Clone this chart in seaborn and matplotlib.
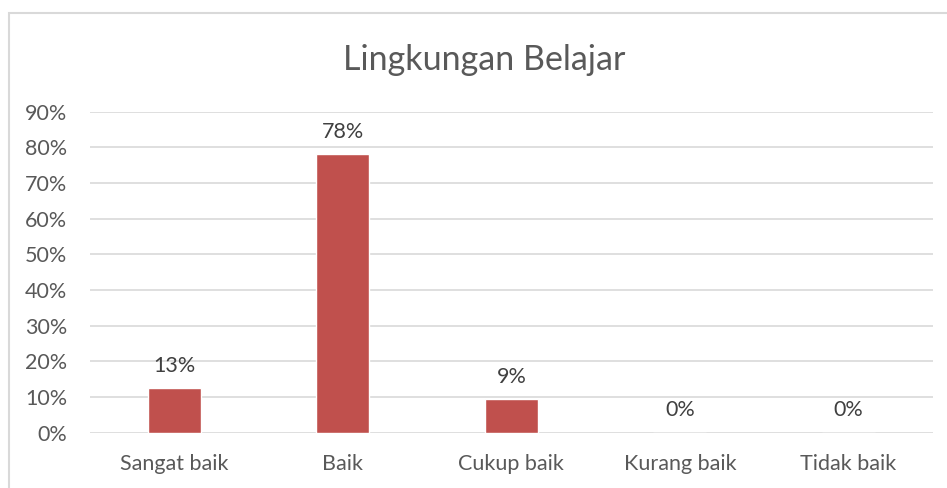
import pandas as pd
import seaborn as sns
import matplotlib.pyplot as plt
from matplotlib.patches import Rectangle
from matplotlib.ticker import PercentFormatter

categories = ['Sangat baik', 'Baik', 'Cukup baik', 'Kurang baik', 'Tidak baik']
values = [0.125, 0.781, 0.094, 0.0, 0.0]
value_labels = ['13%', '78%', '9%', '0%', '0%']
title = 'Lingkungan Belajar'

TEXT = '#595959'
GRID = '#D9D9D9'
BAR = '#C0504D'


def main():
    df = pd.DataFrame({'Kategori': categories, 'Nilai': values})

    sns.set_theme(style='white')
    plt.rcParams['font.family'] = ['Lato', 'DejaVu Sans']

    fig = plt.figure(figsize=(9.47, 4.88), dpi=100)
    ax = fig.add_axes([90 / 947, 1 - 432.7 / 488, 842.7 / 947, 321 / 488])

    sns.barplot(data=df, x='Kategori', y='Nilai', color=BAR, saturation=1,
                width=0.315, ax=ax)

    ax.set_ylim(0, 0.9)
    ax.set_yticks([i / 10 for i in range(10)])
    ax.yaxis.set_major_formatter(PercentFormatter(1.0, decimals=0))
    ax.set_xlim(-0.5, len(categories) - 0.5)
    ax.grid(axis='y', color=GRID, linewidth=1.2)
    ax.set_axisbelow(True)
    for s in ax.spines.values():
        s.set_visible(False)
    ax.set_xlabel('')
    ax.set_ylabel('')
    ax.tick_params(axis='both', length=0, colors=TEXT, labelsize=15.5)
    ax.tick_params(axis='y', pad=16.5)
    ax.tick_params(axis='x', pad=15.5)

    for i, (v, lab) in enumerate(zip(values, value_labels)):
        ax.annotate(lab, (i, v), xytext=(0, 9), textcoords='offset points',
                    ha='center', va='bottom', fontsize=15.5, color='#404040')

    fig.text(484.5 / 947, 1 - 60 / 488, title, ha='center', va='center',
             fontsize=24.5, color=TEXT)

    fig.patches.append(Rectangle((8.5 / 947, -0.05), 1.0, 1 - 13 / 488 + 0.05,
                                 transform=fig.transFigure, fill=False,
                                 edgecolor=GRID, linewidth=1.5))

    fig.savefig('out.png', dpi=100)


if __name__ == '__main__':
    main()
